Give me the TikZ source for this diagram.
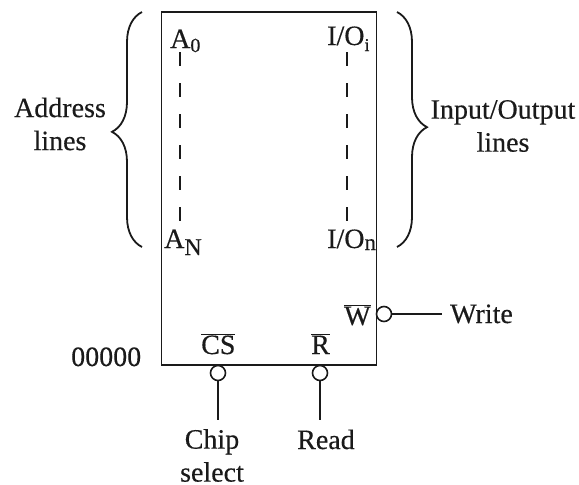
\documentclass[tikz,border=0pt]{standalone}
\usepackage{fontspec}
\setmainfont{Liberation Serif}[RawFeature={embolden=0.4}]
\usepackage{xcolor}
\usepackage{tikz}
\usetikzlibrary{arrows.meta,positioning,decorations.pathreplacing}
\definecolor{inkLine}{HTML}{1A1A1A}
\newcommand{\lowidx}[3]{\raisebox{-#2pt}{\fontsize{#1}{#1}\selectfont #3}}
\newcommand{\barsig}[1]{$\overline{\mbox{#1}}$}
\tikzset{
  chipbox/.style={
    rectangle,
    draw=inkLine,
    line width=1.9pt,
    minimum width=215pt,
    minimum height=353pt,
    inner sep=0pt
  },
  sig/.style={
    inner sep=0pt,
    align=center,
    text=inkLine,
    font=\fontsize{28}{33}\selectfont
  },
  pin/.style={sig, anchor=base west},
  bubble/.style={
    circle,
    draw=inkLine,
    line width=1.6pt,
    fill=white,
    minimum size=15pt,
    inner sep=0pt
  },
  wire/.style={draw=inkLine, line width=1.8pt},
  dashwire/.style={draw=inkLine, line width=1.3pt, dash pattern=on 14pt off 17pt},
  bracket/.style={
    draw=inkLine,
    line width=1.8pt,
    decorate,
    decoration={brace, amplitude=30pt, aspect=0.49}
  }
}

\begin{document}
\begin{tikzpicture}[x=1pt, y=-1pt]
  \useasboundingbox (0,0) rectangle (579,485);
  \node[chipbox] (chip) at (269,188.5) {};
  % address and data pins
  \node[pin] (a0) at (170,48) {A\lowidx{20}{4}{0}};
  \node[pin] (an) at (164,248) {A\lowidx{24}{7}{N}};
  \node[pin] (ioi) at (327,45) {I/O\lowidx{18}{6}{i}};
  \node[pin] (ion) at (327,248) {I/O\lowidx{23}{2}{n}};
  \coordinate (a0s) at (180,52);
  \coordinate (ane) at (180,222);
  \coordinate (ios) at (347,52);
  \coordinate (ioe) at (347,222);
  \draw[dashwire] (a0s) -- (ane);
  \draw[dashwire] (ios) -- (ioe);
  % braces
  \coordinate (lbot) at (142,247);
  \coordinate (ltop) at (142,12);
  \coordinate (rtop) at (397,12);
  \coordinate (rbot) at (397,247);
  \draw[bracket] (lbot) -- (ltop);
  \draw[bracket] (rtop) -- (rbot);
  \node[sig] (addr) at (60,124) {Address\\lines};
  \node[sig] (iolines) at (503,126) {Input/Output\\lines};
  % control pins
  \node[pin] (wbar) at (344,325) {\barsig{W}};
  \node[pin] (csbar) at (201,354) {\barsig{CS}};
  \node[pin] (rbar) at (311,354) {\barsig{R}};
  \node[pin] (addrzero) at (71,366) {00000};
  \node[bubble] (wb) at (384,314) {};
  \node[bubble] (csb) at (218,373) {};
  \node[bubble] (rb) at (320,373) {};
  \node[pin] (write) at (450,323) {Write};
  \node[sig] (chipsel) at (212,455.5) {Chip\\select};
  \node[pin] (read) at (297,449) {Read};
  \coordinate (wend) at (442,314);
  \coordinate (csend) at (218,420);
  \coordinate (rend) at (320,420);
  \draw[wire] (wb) -- (wend);
  \draw[wire] (csb) -- (csend);
  \draw[wire] (rb) -- (rend);
\end{tikzpicture}
\end{document}
